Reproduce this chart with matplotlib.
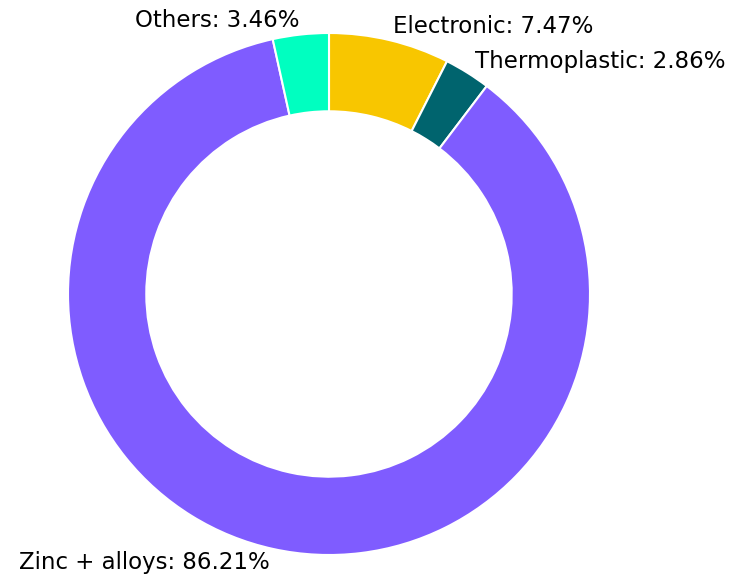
import matplotlib
matplotlib.use("Agg")
import matplotlib.pyplot as plt

materials = ["Electronic", "Thermoplastic", "Zinc + alloys", "Others"]
shares = [7.47, 2.86, 86.21, 3.46]
colors = ["#f8c600", "#00646e", "#7f5cff", "#00ffc0"]

labels = [f"{m}: {s:.2f}%" for m, s in zip(materials, shares)]

fig = plt.figure(figsize=(7.31, 5.75), dpi=100)
# square axes so that one data unit is about 261 px, centred at (329, 294)
L = 1.15
size = 2 * L * 261
ax = fig.add_axes([(329 - size / 2) / 731, (281 - size / 2) / 575,
                   size / 731, size / 575])

wedges, texts = ax.pie(shares, labels=labels, colors=colors, startangle=90,
                       counterclock=False, labeldistance=1.053,
                       wedgeprops=dict(width=0.3, edgecolor="white", linewidth=1.5),
                       textprops=dict(fontsize=16.5))
ax.set_xlim(-L, L)
ax.set_ylim(-L, L)
ax.set_aspect("equal")
ax.axis("off")

fig.savefig("out.png", dpi=100)
